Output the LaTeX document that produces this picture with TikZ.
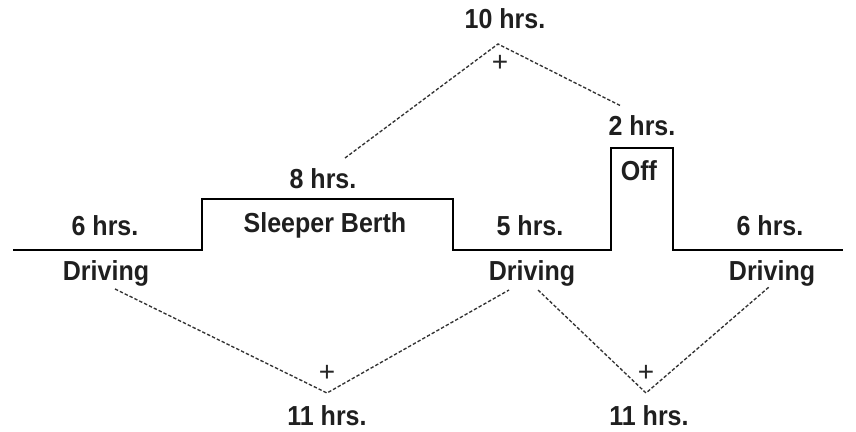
\documentclass[tikz,border=0pt]{standalone}
\usepackage{fontspec}
\setmainfont{Liberation Sans}
\newcommand{\tallbox}[1]{\scalebox{1}[1.1]{#1}}
\begin{document}
\begin{tikzpicture}[x=1pt,y=-1pt,
  lbl/.style={anchor=base,inner sep=0pt,font=\fontsize{25}{28}\selectfont\bfseries,text=black!88},
  plus/.style={inner sep=0pt,font=\fontsize{28}{30}\selectfont,text=black!85},
  profile/.style={line width=1.4pt,line join=miter},
  sumline/.style={line width=1.35pt,dash pattern=on 3.4pt off 2pt,black!80}]
\useasboundingbox[fill=white] (0,0) rectangle (856,431);
% duty-status profile
\coordinate (p0) at (13,250);
\coordinate (p1) at (202,250);
\coordinate (p2) at (202,199);
\coordinate (p3) at (453,199);
\coordinate (p4) at (453,250);
\coordinate (p5) at (611,250);
\coordinate (p6) at (611,148);
\coordinate (p7) at (673,148);
\coordinate (p8) at (673,250);
\coordinate (p9) at (843,250);
\draw[profile] (p0) -- (p1) -- (p2) -- (p3) -- (p4) -- (p5) -- (p6) -- (p7) -- (p8) -- (p9);
% labels
\node[lbl] (h6a) at (105,235) {\tallbox{6 hrs.}};
\node[lbl] (d1) at (106,280) {\tallbox{Driving}};
\node[lbl] (h8) at (323,188) {\tallbox{8 hrs.}};
\node[lbl] (sb) at (325,232) {\tallbox{Sleeper Berth}};
\node[lbl] (h5) at (530,235) {\tallbox{5 hrs.}};
\node[lbl] (d2) at (532,280) {\tallbox{Driving}};
\node[lbl] (h2) at (642,135) {\tallbox{2 hrs.}};
\node[lbl] (off) at (639,180) {\tallbox{Off}};
\node[lbl] (h6b) at (770,235) {\tallbox{6 hrs.}};
\node[lbl] (d3) at (772,280) {\tallbox{Driving}};
\node[lbl] (h10) at (505,28) {\tallbox{10 hrs.}};
\node[lbl] (h11a) at (327,425) {\tallbox{11 hrs.}};
\node[lbl] (h11b) at (649,425) {\tallbox{11 hrs.}};
% plus signs
\node[plus] (pl1) at (500,63) {+};
\node[plus] (pl2) at (327,373) {+};
\node[plus] (pl3) at (646,373) {+};
% dashed summation lines
\coordinate (tA) at (345,158);
\coordinate (tB) at (498,44);
\coordinate (tC) at (621,106);
\draw[sumline] (tA) -- (tB) -- (tC);
\coordinate (bA) at (115,289);
\coordinate (bB) at (327,393);
\coordinate (bC) at (509,290);
\draw[sumline] (bA) -- (bB) -- (bC);
\coordinate (cA) at (538,290);
\coordinate (cB) at (646,393);
\coordinate (cC) at (769,287);
\draw[sumline] (cA) -- (cB) -- (cC);
\end{tikzpicture}
\end{document}
